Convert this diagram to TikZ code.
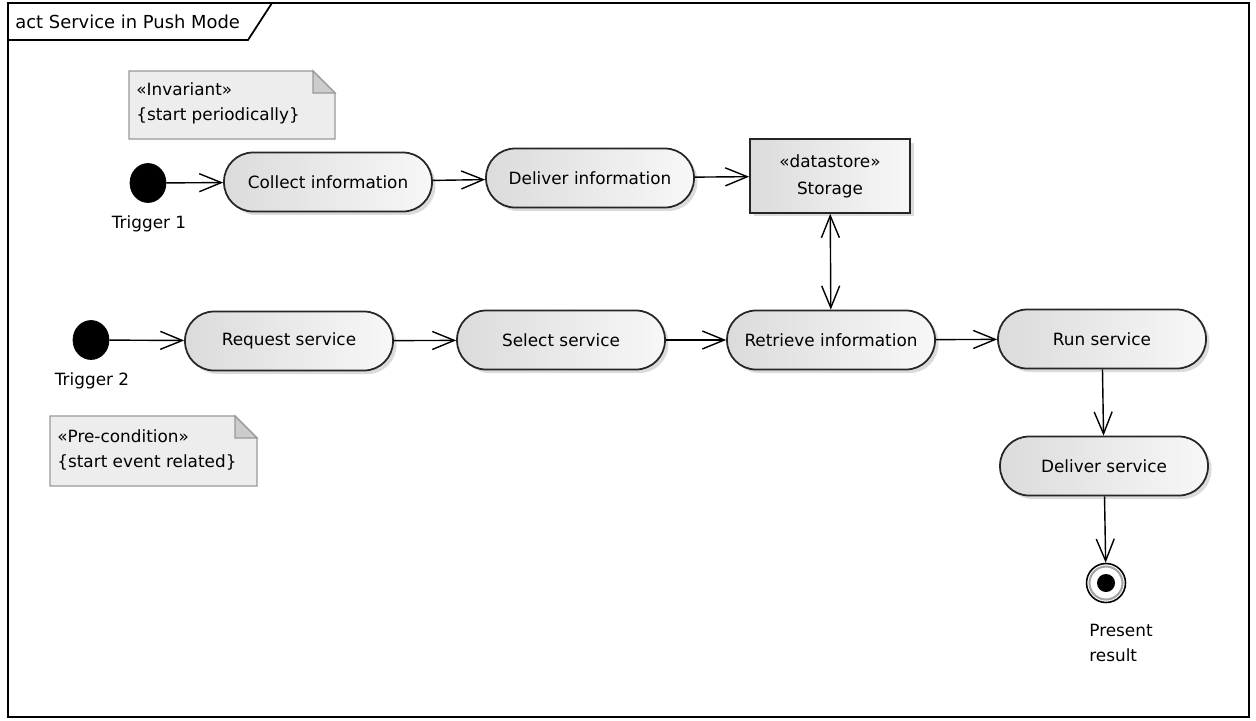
\documentclass[tikz,border=0pt]{standalone}
\usepackage{fontspec}
\setmainfont{DejaVu Sans}
\usetikzlibrary{arrows.meta,shadows}

\tikzset{
  base/.style={font=\fontsize{9.6}{12}\selectfont},
  action/.style={base, draw=black!85, line width=1pt, rectangle,
    rounded corners=0.58cm, minimum width=4.16cm, minimum height=1.18cm,
    left color=black!14, right color=black!3,
    drop shadow={shadow xshift=0.07cm, shadow yshift=-0.07cm, fill=black!35, opacity=0.4}},
  store/.style={base, draw=black!85, line width=1pt, rectangle, align=center,
    minimum width=3.2cm, minimum height=1.48cm, inner sep=0pt,
    font=\fontsize{9.6}{15.3}\selectfont,
    left color=black!14, right color=black!3,
    drop shadow={shadow xshift=0.07cm, shadow yshift=-0.07cm, fill=black!35, opacity=0.4}},
  initial/.style={ellipse, fill=black, draw=black, minimum width=0.72cm, minimum height=0.78cm, inner sep=0pt},
  final/.style={circle, fill=white, draw=black, line width=0.9pt, minimum size=0.78cm, inner sep=0pt},
  notebox/.style={draw=black!40, line width=0.8pt, fill=black!7},
  notefold/.style={draw=black!40, line width=0.8pt, fill=black!20},
  notetext/.style={font=\fontsize{9.6}{14.2}\selectfont, align=left, anchor=west, inner sep=0pt},
  lbl/.style={base, inner sep=0pt},
  flow/.style={line width=0.8pt, -{Straight Barb[length=0.44cm, width=0.36cm, line width=0.8pt]}},
  biflow/.style={line width=0.8pt, {Straight Barb[length=0.44cm, width=0.36cm, line width=0.8pt]}-{Straight Barb[length=0.44cm, width=0.36cm, line width=0.8pt]}}
}
\usetikzlibrary{shapes.geometric}

\begin{document}
\begin{tikzpicture}[x=0.02cm, y=-0.02cm]
  \useasboundingbox (0,0) rectangle (1256,720);
  \fill[white] (0,0) rectangle (1256,720);

  % diagram frame with its name tab
  \draw[line width=1pt] (8,3) rectangle (1249,717);
  \draw[line width=1pt] (8,40) -- (248,40) -- (272,3);
  \node[lbl, anchor=west, font=\fontsize{10.2}{12}\selectfont] (title) at (15,22) {act Service in Push Mode};

  % notes
  \draw[notebox] (129,71) -- (313,71) -- (335,93) -- (335,139) -- (129,139) -- cycle;
  \draw[notefold] (313,71) -- (313,93) -- (335,93) -- cycle;
  \node[notetext] (inv) at (136,103) {«Invariant»\\\{start periodically\}};

  \draw[notebox] (50,416) -- (235,416) -- (257,438) -- (257,486) -- (50,486) -- cycle;
  \draw[notefold] (235,416) -- (235,438) -- (257,438) -- cycle;
  \node[notetext] (pre) at (57,450) {«Pre-condition»\\\{start event related\}};

  % initial nodes
  \node[initial] (t1) at (148,183) {};
  \node[lbl] (t1l) at (149,224) {Trigger 1};
  \node[initial] (t2) at (91,340) {};
  \node[lbl] (t2l) at (92,381) {Trigger 2};

  % actions
  \node[action] (collect) at (328,182) {Collect information};
  \node[action] (deliverinfo) at (590,178) {Deliver information};
  \node[store] (storage) at (830,176) {«datastore»\\Storage};
  \node[action] (request) at (289,341) {Request service};
  \node[action] (select) at (561,340) {Select service};
  \node[action] (retrieve) at (831,340) {Retrieve information};
  \node[action] (run) at (1102,339) {Run service};
  \node[action] (deliverserv) at (1104,466) {Deliver service};

  % final node
  \node[final] (end) at (1106,583) {};
  \draw[black!35, line width=1.2pt] (end.center) circle (0.33cm);
  \fill[black] (end.center) circle (0.18cm);
  \node[lbl, anchor=west, align=left, font=\fontsize{9.6}{14.2}\selectfont] (endl) at (1089,643) {Present\\result};

  % control and object flows
  \draw[flow] (t1) -- (collect);
  \draw[flow] (collect) -- (deliverinfo);
  \draw[flow] (deliverinfo) -- (storage);
  \draw[biflow] (storage) -- (retrieve);
  \draw[flow] (t2) -- (request);
  \draw[flow] (request) -- (select);
  \draw[flow] (select) -- (retrieve);
  \draw[flow] (retrieve) -- (run);
  \draw[flow] (run) -- (deliverserv);
  \draw[flow] (deliverserv) -- (end);
\end{tikzpicture}
\end{document}
